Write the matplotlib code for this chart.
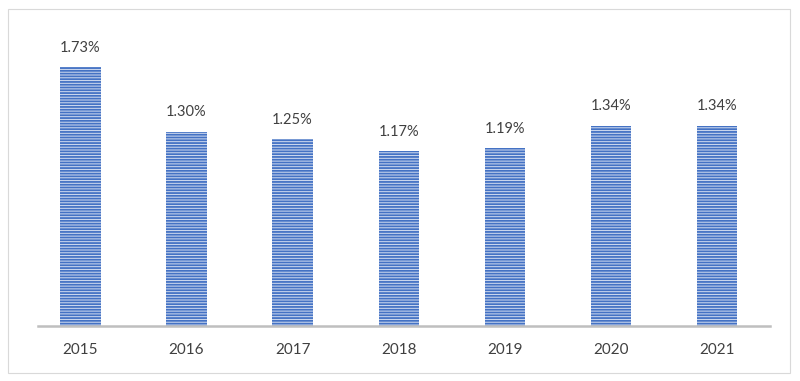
import matplotlib.pyplot as plt
from matplotlib.patches import Rectangle

years = ['2015', '2016', '2017', '2018', '2019', '2020', '2021']
rates = [1.73, 1.30, 1.25, 1.17, 1.19, 1.34, 1.34]
labels = ['1.73%', '1.30%', '1.25%', '1.17%', '1.19%', '1.34%', '1.34%']

plt.rcParams['font.family'] = ['Lato', 'DejaVu Sans']
plt.rcParams['hatch.linewidth'] = 1.3
plt.rcParams['hatch.color'] = '#4472C4'

fig = plt.figure(figsize=(8, 3.81), dpi=100)
ax = fig.add_axes([38 / 800, 1 - 326 / 381, 732 / 800, 299 / 381])

x = range(len(years))
bars = ax.bar(x, rates, width=0.38, color='#d3ddf1', edgecolor='#4472C4',
              linewidth=0, hatch='------')

for b, lab in zip(bars, labels):
    ax.annotate(lab, (b.get_x() + b.get_width() / 2, b.get_height()),
                xytext=(0, 9), textcoords='offset points',
                ha='center', va='bottom', fontsize=10.5, color='#404040')

ax.set_xlim(-0.4, 6.5)
ax.set_ylim(0, 2.0)
ax.set_xticks(list(x))
ax.set_xticklabels(years, fontsize=11, color='#404040')
ax.tick_params(axis='x', length=0, pad=12)
ax.set_yticks([])
for s in ['top', 'right', 'left']:
    ax.spines[s].set_visible(False)
ax.spines['bottom'].set_color('#bfbfbf')
ax.spines['bottom'].set_linewidth(1.8)

fig.patches.append(Rectangle((8 / 800, 8 / 381), 782 / 800, 364 / 381,
                             transform=fig.transFigure, fill=False,
                             edgecolor='#d9d9d9', linewidth=0.8))

fig.savefig('out.png', dpi=100)
